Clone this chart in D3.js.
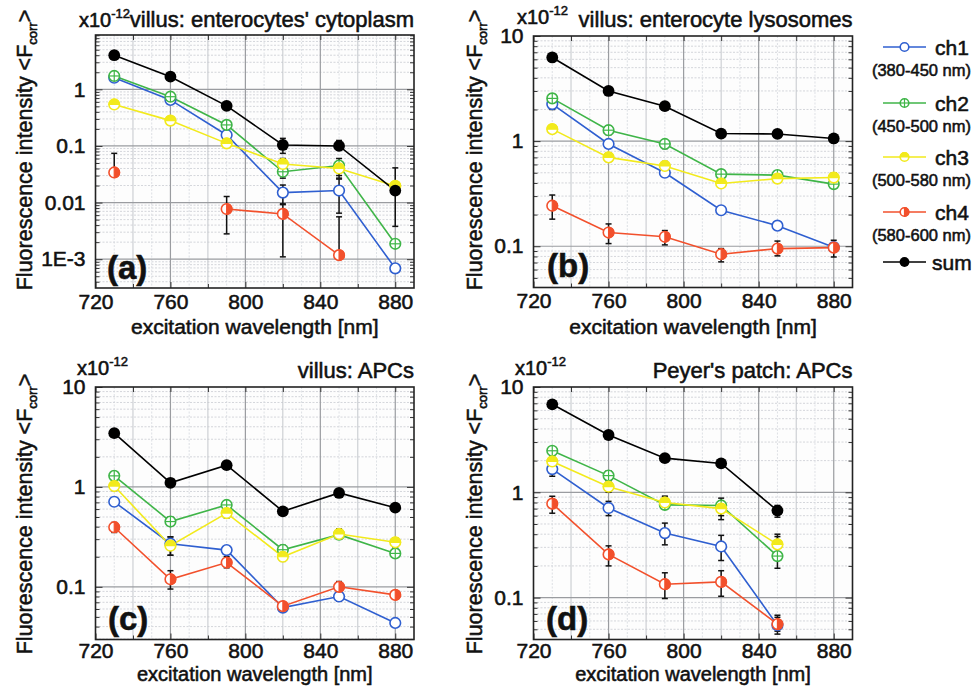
<!DOCTYPE html>
<html><head><meta charset="utf-8">
<script src="https://cdn.jsdelivr.net/npm/d3@7/dist/d3.min.js"></script>
<style>
html,body{margin:0;padding:0;background:#fff;}
svg{display:block;font-family:"Liberation Sans",Arial,Helvetica,sans-serif;}
svg text{stroke:#111;stroke-width:0.55px;}
</style></head>
<body><svg id="chart" width="976" height="686"></svg>
<script>
// ---------------- data ----------------
const wavelengths = [730, 760, 790, 820, 850, 880];
const seriesNames = ["ch1", "ch2", "ch3", "ch4", "sum"];
const seriesRanges = ["(380-450 nm)", "(450-500 nm)", "(500-580 nm)", "(580-600 nm)", ""];
const panelTitles = ["villus: enterocytes' cytoplasm", "villus: enterocyte lysosomes", "villus: APCs", "Peyer's patch: APCs"];
const panelLetters = ["(a)", "(b)", "(c)", "(d)"];
const xTicks = [720, 760, 800, 840, 880];
const xDomain = [720, 890];
const yTicksA = [0.001, 0.01, 0.1, 1];
const yTickLabelsA = ["1E-3", "0.01", "0.1", "1"];
const yTicksBCD = [0.1, 1, 10];
const yTickLabelsBCD = ["0.1", "1", "10"];
const yDomainA = [3.1e-4, 9.1];
const yDomainB = [0.0405, 10];
const yDomainC = [0.0297, 10];
const yDomainD = [0.04, 10];

// panel (a)
const a_ch1 = [1.6, 0.65, 0.156, 0.015, 0.0163, 0.00069];
const a_ch2 = [1.72, 0.74, 0.235, 0.035, 0.045, 0.00187];
const a_ch3 = [0.54, 0.28, 0.111, 0.048, 0.040, 0.0197];
const a_ch4 = [0.034, null, 0.0077, 0.0063, 0.00118, null];
const a_sum = [4.0, 1.67, 0.51, 0.104, 0.10, 0.0163];
const a_ch1_err = [[1.45, 1.75], [0.58, 0.72], [0.14, 0.175], [0.0095, 0.0204], [0.0065, 0.026], null];
const a_ch2_err = [[1.55, 1.9], [0.66, 0.82], [0.21, 0.26], [0.027, 0.05], [0.027, 0.06], null];
const a_ch3_err = [[0.47, 0.62], [0.24, 0.32], [0.095, 0.13], [0.036, 0.06], [0.03, 0.05], null];
const a_ch4_err = [[0.034, 0.074], null, [0.0028, 0.0128], [0.0011, 0.0092], [0.00118, 0.0056], null];
const a_sum_err = [null, null, null, [0.074, 0.136], [0.085, 0.125], [0.0038, 0.041]];

// panel (b)
const b_ch1 = [2.25, 0.94, 0.50, 0.22, 0.157, 0.098];
const b_ch2 = [2.55, 1.27, 0.94, 0.485, 0.475, 0.39];
const b_ch3 = [1.30, 0.70, 0.58, 0.395, 0.44, 0.45];
const b_ch4 = [0.243, 0.135, 0.123, 0.084, 0.095, 0.097];
const b_sum = [6.25, 3.0, 2.15, 1.18, 1.17, 1.06];
const b_ch1_err = [[2.0, 2.5], [0.86, 1.0], [0.46, 0.55], null, null, null];
const b_ch2_err = [[2.3, 2.8], [1.15, 1.4], [0.85, 1.02], [0.44, 0.53], [0.44, 0.52], [0.36, 0.43]];
const b_ch3_err = [[1.2, 1.42], [0.64, 0.77], [0.53, 0.64], [0.37, 0.43], [0.41, 0.49], [0.41, 0.5]];
const b_ch4_err = [[0.181, 0.307], [0.106, 0.163], [0.103, 0.141], [0.071, 0.095], [0.081, 0.112], [0.079, 0.114]];
const b_sum_err = [null, null, null, null, null, null];

// panel (c)
const c_ch1 = [0.71, 0.27, 0.233, 0.062, 0.08, 0.0435];
const c_ch2 = [1.29, 0.45, 0.66, 0.235, 0.333, 0.216];
const c_ch3 = [1.02, 0.258, 0.547, 0.20, 0.338, 0.279];
const c_ch4 = [0.395, 0.119, 0.175, 0.064, 0.10, 0.083];
const c_sum = [3.45, 1.1, 1.65, 0.57, 0.87, 0.62];
const c_ch1_err = [null, [0.207, 0.316], null, [0.058, 0.068], [0.072, 0.09], null];
const c_ch2_err = [[1.18, 1.42], [0.41, 0.5], [0.6, 0.72], [0.21, 0.26], [0.3, 0.37], [0.2, 0.24]];
const c_ch3_err = [[0.92, 1.12], [0.207, 0.316], [0.49, 0.6], [0.18, 0.22], [0.3, 0.38], [0.25, 0.31]];
const c_ch4_err = [[0.35, 0.44], [0.095, 0.145], [0.155, 0.2], [0.058, 0.07], [0.09, 0.113], [0.077, 0.09]];
const c_sum_err = [null, null, null, null, null, null];

// panel (d)
const d_ch1 = [1.66, 0.71, 0.41, 0.306, 0.0547, null];
const d_ch2 = [2.48, 1.44, 0.76, 0.75, 0.248, null];
const d_ch3 = [1.96, 1.13, 0.80, 0.70, 0.32, null];
const d_ch4 = [0.78, 0.257, 0.134, 0.141, 0.056, null];
const d_sum = [6.85, 3.5, 2.11, 1.88, 0.67, null];
const d_ch1_err = [[1.42, 1.85], [0.6, 0.82], [0.317, 0.51], [0.225, 0.39], [0.045, 0.065], null];
const d_ch2_err = [[2.25, 2.7], [1.3, 1.6], [0.69, 0.92], [0.55, 0.88], [0.19, 0.4], null];
const d_ch3_err = [[1.75, 2.2], [1.0, 1.28], [0.7, 0.9], [0.6, 0.82], [0.27, 0.38], null];
const d_ch4_err = [[0.633, 0.917], [0.2, 0.31], [0.098, 0.172], [0.103, 0.18], [0.048, 0.068], null];
const d_sum_err = [null, null, null, null, [0.58, 0.75], null];

// ---------------- styles / layout ----------------
const colors = {ch1: "#2f5fd0", ch2: "#3fb548", ch3: "#f2ea1c", ch4: "#f2502c", sum: "#000000"};
const panels = [
  {box: {l: 95.5, r: 414, t: 35, b: 288}, yDom: yDomainA, yT: yTicksA, yL: yTickLabelsA,
   vals: [a_ch1, a_ch2, a_ch3, a_ch4, a_sum], errs: [a_ch1_err, a_ch2_err, a_ch3_err, a_ch4_err, a_sum_err],
   ylab: {x: 24, y: 150}, sci: {x: 79, y: 27}, title: {y: 27}, letter: {x: 107, y: 279}, xlabOff: 46, tickPad: 6, xlabSize: 21},
  {box: {l: 533.5, r: 852.5, t: 36, b: 287.5}, yDom: yDomainB, yT: yTicksBCD, yL: yTickLabelsBCD,
   vals: [b_ch1, b_ch2, b_ch3, b_ch4, b_sum], errs: [b_ch1_err, b_ch2_err, b_ch3_err, b_ch4_err, b_sum_err],
   ylab: {x: 474, y: 150}, sci: {x: 517, y: 24}, title: {y: 27}, letter: {x: 547, y: 277}, xlabOff: 46, tickPad: 6, xlabSize: 21},
  {box: {l: 95.5, r: 414, t: 387, b: 639.5}, yDom: yDomainC, yT: yTicksBCD, yL: yTickLabelsBCD,
   vals: [c_ch1, c_ch2, c_ch3, c_ch4, c_sum], errs: [c_ch1_err, c_ch2_err, c_ch3_err, c_ch4_err, c_sum_err],
   ylab: {x: 24, y: 514}, sci: {x: 77, y: 375}, title: {y: 378}, letter: {x: 108, y: 630}, xlabOff: 41.5, tickPad: 4, xlabSize: 20},
  {box: {l: 533.5, r: 852.5, t: 387, b: 639.5}, yDom: yDomainD, yT: yTicksBCD, yL: yTickLabelsBCD,
   vals: [d_ch1, d_ch2, d_ch3, d_ch4, d_sum], errs: [d_ch1_err, d_ch2_err, d_ch3_err, d_ch4_err, d_sum_err],
   ylab: {x: 474, y: 514}, sci: {x: 515, y: 375}, title: {y: 378}, letter: {x: 546, y: 630}, xlabOff: 41.5, tickPad: 4, xlabSize: 20}
];

const svg = d3.select("#chart");

function drawMarker(g, name, r) {
  const c = colors[name];
  if (name === "sum") {
    g.append("circle").attr("r", r + 0.6).attr("fill", "#000");
    return;
  }
  g.append("circle").attr("r", r).attr("fill", "#fff").attr("stroke", c).attr("stroke-width", 1.6);
  if (name === "ch2") {
    g.append("line").attr("x1", -r).attr("x2", r).attr("stroke", c).attr("stroke-width", 1.2);
    g.append("line").attr("y1", -r).attr("y2", r).attr("stroke", c).attr("stroke-width", 1.2);
  } else if (name === "ch3") {
    g.append("path").attr("d", `M${-r},0 A${r},${r} 0 0 1 ${r},0 Z`).attr("fill", c).attr("stroke", c).attr("stroke-width", 1.2);
  } else if (name === "ch4") {
    g.append("path").attr("d", `M0,${-r} A${r},${r} 0 0 1 0,${r} Z`).attr("fill", c).attr("stroke", c).attr("stroke-width", 1.2);
  }
}

panels.forEach((p, pi) => {
  const B = p.box;
  const x = d3.scaleLinear().domain(xDomain).range([B.l, B.r]);
  const y = d3.scaleLog().domain(p.yDom).range([B.b, B.t]);
  const g = svg.append("g");

  g.append("rect").attr("x", B.l).attr("y", B.t).attr("width", B.r - B.l).attr("height", B.b - B.t).attr("fill", "#fdfdfd");

  const minorY = [];
  for (let e = -5; e <= 1; e++) for (let m = 2; m <= 9; m++) {
    const v = m * Math.pow(10, e);
    if (v > p.yDom[0] && v < p.yDom[1]) minorY.push(v);
  }
  const fineX = d3.range(730, 890, 20);
  const minorX = [740, 780, 820, 860];
  const majorX = [760, 800, 840, 880];

  const grid = g.append("g");
  grid.selectAll(".hm").data(minorY).join("line")
    .attr("x1", B.l).attr("x2", B.r).attr("y1", d => y(d)).attr("y2", d => y(d))
    .attr("stroke", "#c9ccd2").attr("stroke-width", 0.8).attr("stroke-dasharray", "2,1.5");
  grid.selectAll(".vf").data(fineX).join("line")
    .attr("y1", B.t).attr("y2", B.b).attr("x1", d => x(d)).attr("x2", d => x(d))
    .attr("stroke", "#d6d9de").attr("stroke-width", 0.8).attr("stroke-dasharray", "2,1.5");
  grid.selectAll(".vm").data(minorX).join("line")
    .attr("y1", B.t).attr("y2", B.b).attr("x1", d => x(d)).attr("x2", d => x(d))
    .attr("stroke", "#c4c7cc").attr("stroke-width", 1);
  grid.selectAll(".vM").data(majorX).join("line")
    .attr("y1", B.t).attr("y2", B.b).attr("x1", d => x(d)).attr("x2", d => x(d))
    .attr("stroke", "#9a9ca0").attr("stroke-width", 1.2);
  grid.selectAll(".hM").data(p.yT.filter(v => v > p.yDom[0] && v < p.yDom[1])).join("line")
    .attr("x1", B.l).attr("x2", B.r).attr("y1", d => y(d)).attr("y2", d => y(d))
    .attr("stroke", "#9a9ca0").attr("stroke-width", 1.2);

  const fmt = d => p.yL[p.yT.indexOf(d)];
  g.append("g").attr("transform", `translate(0,${B.b})`)
    .call(d3.axisBottom(x).tickValues(xTicks).tickSize(-6).tickPadding(p.tickPad).tickFormat(d3.format("d")));
  g.append("g").attr("transform", `translate(0,${B.b})`)
    .call(d3.axisBottom(x).tickValues(minorX).tickSize(-4).tickFormat(""));
  g.append("g").attr("transform", `translate(0,${B.t})`)
    .call(d3.axisTop(x).tickValues(xTicks.concat(minorX)).tickSize(-5).tickFormat(""));
  g.append("g").attr("transform", `translate(${B.l},0)`)
    .call(d3.axisLeft(y).tickValues(p.yT).tickSize(-7).tickPadding(10).tickFormat(fmt));
  g.append("g").attr("transform", `translate(${B.l},0)`)
    .call(d3.axisLeft(y).tickValues(minorY).tickSize(-4).tickFormat(""));
  g.append("g").attr("transform", `translate(${B.r},0)`)
    .call(d3.axisRight(y).tickValues(p.yT.filter(v => v > p.yDom[0] && v < p.yDom[1])).tickSize(-7).tickFormat(""));
  g.append("g").attr("transform", `translate(${B.r},0)`)
    .call(d3.axisRight(y).tickValues(minorY).tickSize(-4).tickFormat(""));
  g.selectAll(".domain").remove();
  g.selectAll(".tick line").attr("stroke", "#333").attr("stroke-width", 1);
  g.selectAll(".tick text").attr("fill", "#111").attr("font-size", "21px")
    .attr("font-family", "'Liberation Sans',Arial,sans-serif");

  g.append("rect").attr("x", B.l).attr("y", B.t).attr("width", B.r - B.l).attr("height", B.b - B.t)
    .attr("fill", "none").attr("stroke", "#222").attr("stroke-width", 1.6);

  const dataLayer = g.append("g");
  const line = d3.line().defined(d => d.v != null).x(d => x(d.w)).y(d => y(d.v));
  seriesNames.forEach((name, si) => {
    const pts = wavelengths.map((w, i) => ({w, v: p.vals[si][i], e: p.errs[si][i]}));
    dataLayer.append("path").datum(pts).attr("d", line).attr("fill", "none")
      .attr("stroke", colors[name]).attr("stroke-width", 1.6);
  });
  seriesNames.forEach((name, si) => {
    const pts = wavelengths.map((w, i) => ({w, v: p.vals[si][i], e: p.errs[si][i]})).filter(d => d.v != null && d.e);
    const eg = dataLayer.append("g").attr("stroke", "#111").attr("stroke-width", 1.5);
    pts.forEach(d => {
      const xx = x(d.w), y0 = y(d.e[0]), y1 = y(d.e[1]);
      eg.append("line").attr("x1", xx).attr("x2", xx).attr("y1", y0).attr("y2", y1);
      if (d.e[0] < d.v) eg.append("line").attr("x1", xx - 3).attr("x2", xx + 3).attr("y1", y0).attr("y2", y0);
      eg.append("line").attr("x1", xx - 3).attr("x2", xx + 3).attr("y1", y1).attr("y2", y1);
    });
  });
  seriesNames.forEach((name, si) => {
    wavelengths.forEach((w, i) => {
      const v = p.vals[si][i];
      if (v == null) return;
      const mg = dataLayer.append("g").attr("transform", `translate(${x(w)},${y(v)})`);
      drawMarker(mg, name, 5.3);
    });
  });

  const yl = g.append("text").attr("transform", `translate(${p.ylab.x},${p.ylab.y}) rotate(-90)`)
    .attr("text-anchor", "middle").attr("dy", "0.35em").attr("font-size", "21.5px").attr("fill", "#111");
  yl.append("tspan").text("Fluorescence intensity <F");
  yl.append("tspan").attr("font-size", "13px").attr("dy", "5").text("corr");
  yl.append("tspan").attr("dy", "-5").text(">");

  g.append("text").attr("x", (B.l + B.r) / 2).attr("y", B.b + p.xlabOff).attr("text-anchor", "middle")
    .attr("font-size", p.xlabSize + "px").attr("fill", "#111").text("excitation wavelength [nm]");

  const sc = g.append("text").attr("x", p.sci.x).attr("y", p.sci.y).attr("font-size", "20px").attr("fill", "#111");
  sc.append("tspan").text("x10");
  sc.append("tspan").attr("font-size", "13px").attr("dy", "-9").text("-12");

  g.append("text").attr("x", B.r).attr("y", p.title.y).attr("text-anchor", "end")
    .attr("font-size", "22px").attr("fill", "#111").text(panelTitles[pi]);

  g.append("text").attr("x", p.letter.x).attr("y", p.letter.y).attr("font-size", "33px")
    .attr("font-weight", "bold").attr("fill", "#111").text(panelLetters[pi]);
});

// legend
const legendRows = [{y: 47}, {y: 103}, {y: 157}, {y: 212}, {y: 262}];
const lg = svg.append("g");
seriesNames.forEach((name, i) => {
  const ry = legendRows[i].y;
  lg.append("line").attr("x1", 883).attr("x2", 926).attr("y1", ry).attr("y2", ry)
    .attr("stroke", colors[name]).attr("stroke-width", 1.5);
  const mg = lg.append("g").attr("transform", `translate(904.5,${ry})`);
  drawMarker(mg, name, 4.3);
  lg.append("text").attr("x", name === "sum" ? 932 : 935).attr("y", ry + 7.5).attr("font-size", "21px")
    .attr("fill", "#111").text(name);
  if (seriesRanges[i]) {
    lg.append("text").attr("x", 971).attr("y", ry + 28.5).attr("text-anchor", "end")
      .attr("font-size", "16.5px").attr("fill", "#111").text(seriesRanges[i]);
  }
});
</script>
</body></html>
